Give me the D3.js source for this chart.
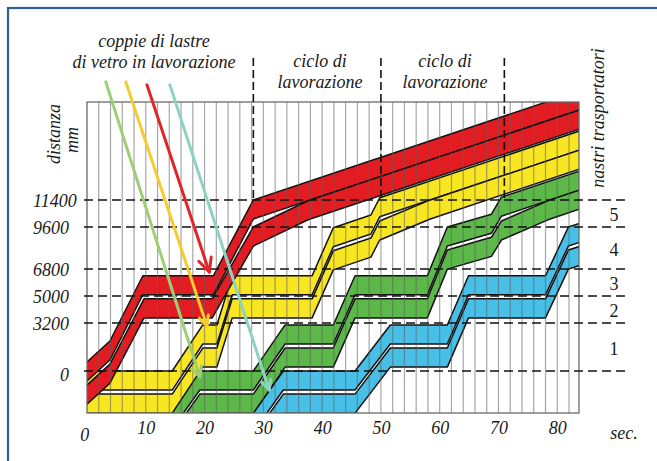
<!DOCTYPE html>
<html>
<head>
<meta charset="utf-8">
<script src="https://cdn.jsdelivr.net/npm/d3@7"></script>
<style>
  body { margin: 0; background: #fff; }
  svg { display: block; }
  text { font-family: "Liberation Serif", "Times New Roman", serif; fill: #1a1a1a; }
</style>
</head>
<body>
<svg id="chart" width="657" height="461"></svg>
<script>
// ---------- data (time in s, distance in mm) ----------
const timeTicks = [0, 10, 20, 30, 40, 50, 60, 70, 80];
const distanceTicks = [0, 3200, 5000, 6800, 9600, 11400];
const beltNames = ["1", "2", "3", "4", "5"];          // belts between successive distance ticks
const cycleStarts = [28.3, 50, 71];                   // start of each working cycle
const SHEET_LENGTH = 1270;                            // length of one glass sheet (mm)

// leading edge of each sheet over time: [t, mm]
const redLead    = [[-2, -300], [0, 600], [3.9, 2000], [9.5, 6350], [21.5, 6350], [28.3, 11400], [84, 18697]];
const redTrail   = [[-2, -1840], [0, -940], [3.9, 460], [9.7, 4810], [21.3, 4810], [28.3, 9600], [37.6, 11348], [84, 17427]];
const yellowLead = [[-2, 0], [14.5, 0], [19.7, 3070], [22.1, 3070], [24.7, 6350], [38.3, 6350], [41.9, 9550], [48.3, 10400], [49.8, 11546], [84, 16027]];
const yellowTrail= [[-2, -1540], [14.5, -1540], [19.7, 1530], [22.1, 1530], [24.7, 4810], [38.3, 4810], [41.9, 8010], [48.3, 8860], [49.8, 10000], [58.4, 11403], [84, 14757]];
const greenLead  = [[12, -3950], [19.2, 0], [28.3, 0], [33.7, 3070], [41.9, 3070], [45.6, 6350], [57.9, 6350], [61.3, 9600], [68.8, 10450], [70.5, 11588], [84, 13357]];
const greenTrail = [[12, -5490], [19.2, -1540], [28.3, -1540], [33.7, 1530], [41.9, 1530], [45.6, 4810], [57.9, 4810], [61.3, 8060], [68.8, 8910], [70.5, 10000], [78.8, 11406], [84, 12087]];
const blueLead   = [[26, -4060], [33.4, 0], [45.6, 0], [51.6, 3070], [61.3, 3070], [64.9, 6350], [78, 6350], [81.9, 9600], [84, 9870]];
const blueTrail  = [[26, -5600], [33.4, -1540], [45.6, -1540], [51.6, 1530], [61.3, 1530], [64.9, 4810], [78, 4810], [81.9, 8060], [84, 8330]];

// pointers to the sheet pairs: tail and head, [t, mm]
const pointerTails = [[3.2, 19270], [6.6, 19270], [10.2, 19070], [14.1, 19070]];
const pointerHeads = [[19.2, -400], [20.4, 3000], [20.8, 6600], [31.0, -1270]];

// ---------- styles ----------
const pairColors = { blue: "#48bfe6", green: "#5cb849", yellow: "#f7e621", red: "#e41c22" };
const pointerStyle = [
  { color: "#9ccf74", head: 11 },
  { color: "#f4cd2a", head: 11 },
  { color: "#e1232a", head: 15 },
  { color: "#8ed2c3", head: 11 }
];

// drawing order: later pairs underneath, red on top
const pairs = [
  { key: "blue",   sheets: [blueLead, blueTrail] },
  { key: "green",  sheets: [greenLead, greenTrail] },
  { key: "yellow", sheets: [yellowLead, yellowTrail] },
  { key: "red",    sheets: [redLead, redTrail] }
];

// ---------- layout ----------
const svg = d3.select("#chart");
const plot = { left: 87, right: 579, top: 102, bottom: 413 };
const x = d3.scaleLinear().domain([0, 83.7]).range([plot.left, plot.right]);
const y = d3.scaleLinear().domain([-2800, 17930]).range([plot.bottom, plot.top]);

// outer blue frame (runs off the right and bottom edges)
svg.append("rect")
  .attr("x", 8).attr("y", 8).attr("width", 720).attr("height", 520)
  .attr("fill", "none").attr("stroke", "#2c5f9d").attr("stroke-width", 2.2);

svg.append("defs").append("clipPath").attr("id", "plotClip")
  .append("rect")
  .attr("x", plot.left).attr("y", plot.top)
  .attr("width", plot.right - plot.left).attr("height", plot.bottom - plot.top);

const inner = svg.append("g").attr("clip-path", "url(#plotClip)");

// sheet bands
const line = d3.line();
function sheetPath(edge) {
  const upper = edge.map(([t, p]) => [x(t), y(p)]);
  const lower = edge.slice().reverse().map(([t, p]) => [x(t), y(p - SHEET_LENGTH)]);
  return line(upper.concat(lower)) + "Z";
}
pairs.forEach(pair => {
  inner.selectAll(null)
    .data(pair.sheets)
    .enter().append("path")
    .attr("d", sheetPath)
    .attr("fill", pairColors[pair.key])
    .attr("stroke", "#111")
    .attr("stroke-width", 1.5)
    .attr("stroke-linejoin", "round");
});

// vertical 2-second grid, drawn over the bands
inner.selectAll(".grid")
  .data(d3.range(2, 83.7, 2))
  .enter().append("line")
  .attr("x1", d => x(d)).attr("x2", d => x(d))
  .attr("y1", plot.top).attr("y2", plot.bottom)
  .attr("stroke", "#5e5e5e").attr("stroke-opacity", 0.55).attr("stroke-width", 1.2);

// plot frame
svg.append("rect")
  .attr("x", plot.left).attr("y", plot.top)
  .attr("width", plot.right - plot.left).attr("height", plot.bottom - plot.top)
  .attr("fill", "none").attr("stroke", "#6a6a6a").attr("stroke-width", 1.3);

// horizontal belt limits
svg.selectAll(".limit")
  .data(distanceTicks)
  .enter().append("line")
  .attr("x1", 84).attr("x2", 626)
  .attr("y1", d => y(d)).attr("y2", d => y(d))
  .attr("stroke", "#111").attr("stroke-width", 1.6)
  .attr("stroke-dasharray", "9,5");

// working cycle boundaries
svg.selectAll(".cycle")
  .data(cycleStarts)
  .enter().append("line")
  .attr("x1", d => x(d)).attr("x2", d => x(d))
  .attr("y1", 58).attr("y2", y(11400))
  .attr("stroke", "#111").attr("stroke-width", 1.6)
  .attr("stroke-dasharray", "8,4");

// axes
const xAxis = svg.append("g")
  .attr("transform", `translate(0,${plot.bottom})`)
  .call(d3.axisBottom(x).tickValues(timeTicks).tickSize(0).tickPadding(8));
xAxis.select(".domain").remove();
xAxis.selectAll("text")
  .style("font-family", '"Liberation Serif", serif')
  .style("font-style", "italic").style("font-size", "18px").attr("fill", "#1a1a1a")
  .attr("dy", d => d === 0 ? "1.1em" : "0.71em")
  .attr("dx", d => d === 0 ? "-0.15em" : 0);

const yAxis = svg.append("g")
  .attr("transform", `translate(${plot.left},0)`)
  .call(d3.axisLeft(y).tickValues(distanceTicks).tickSize(0).tickFormat(d3.format("d")));
yAxis.select(".domain").remove();
yAxis.selectAll("text")
  .style("font-family", '"Liberation Serif", serif')
  .style("font-style", "italic").style("font-size", "18px").attr("fill", "#1a1a1a")
  .attr("text-anchor", "start")
  .attr("x", d => d === 0 ? -27 : -54)
  .attr("dy", d => d === 0 ? "0.55em" : "0.35em");

svg.append("text")
  .attr("x", 624).attr("y", 439)
  .attr("text-anchor", "middle")
  .style("font-style", "italic").style("font-size", "18px")
  .text("sec.");

// belt numbers
svg.selectAll(".belt")
  .data(beltNames)
  .enter().append("text")
  .attr("x", 614)
  .attr("y", (d, i) => (y(distanceTicks[i]) + y(distanceTicks[i + 1])) / 2)
  .attr("dy", "0.42em")
  .attr("text-anchor", "middle")
  .style("font-size", "18px")
  .text(d => d);

// captions
function caption(lines, cx, ys) {
  lines.forEach((t, i) => {
    svg.append("text")
      .attr("x", cx).attr("y", ys[i])
      .attr("text-anchor", "middle")
      .style("font-style", "italic").style("font-size", "18px")
      .text(t);
  });
}
caption(["coppie di lastre", "di vetro in lavorazione"], 154, [47, 68]);
caption(["ciclo di", "lavorazione"], 320, [67, 88]);
caption(["ciclo di", "lavorazione"], 445, [67, 88]);

function vertical(text, bx, cy) {
  svg.append("text")
    .attr("transform", `translate(${bx},${cy}) rotate(-90)`)
    .attr("text-anchor", "middle")
    .style("font-style", "italic").style("font-size", "18px")
    .text(text);
}
vertical("distanza", 60, 134);
vertical("mm", 78, 140);
vertical("nastri trasportatori", 604, 118);

// pointers to the glass sheet pairs
pointerTails.forEach((tail, i) => {
  const head = pointerHeads[i];
  const st = pointerStyle[i];
  const x1 = x(tail[0]), y1 = y(tail[1]), x2 = x(head[0]), y2 = y(head[1]);
  const ang = Math.atan2(y2 - y1, x2 - x1);
  const spread = 0.45;
  const g = svg.append("g")
    .attr("stroke", st.color).attr("stroke-width", 3)
    .attr("fill", "none").attr("stroke-linecap", "round").attr("stroke-linejoin", "round");
  g.append("line").attr("x1", x1).attr("y1", y1).attr("x2", x2).attr("y2", y2);
  g.append("path").attr("d", line([
    [x2 - st.head * Math.cos(ang - spread), y2 - st.head * Math.sin(ang - spread)],
    [x2, y2],
    [x2 - st.head * Math.cos(ang + spread), y2 - st.head * Math.sin(ang + spread)]
  ]));
});
</script>
</body>
</html>
